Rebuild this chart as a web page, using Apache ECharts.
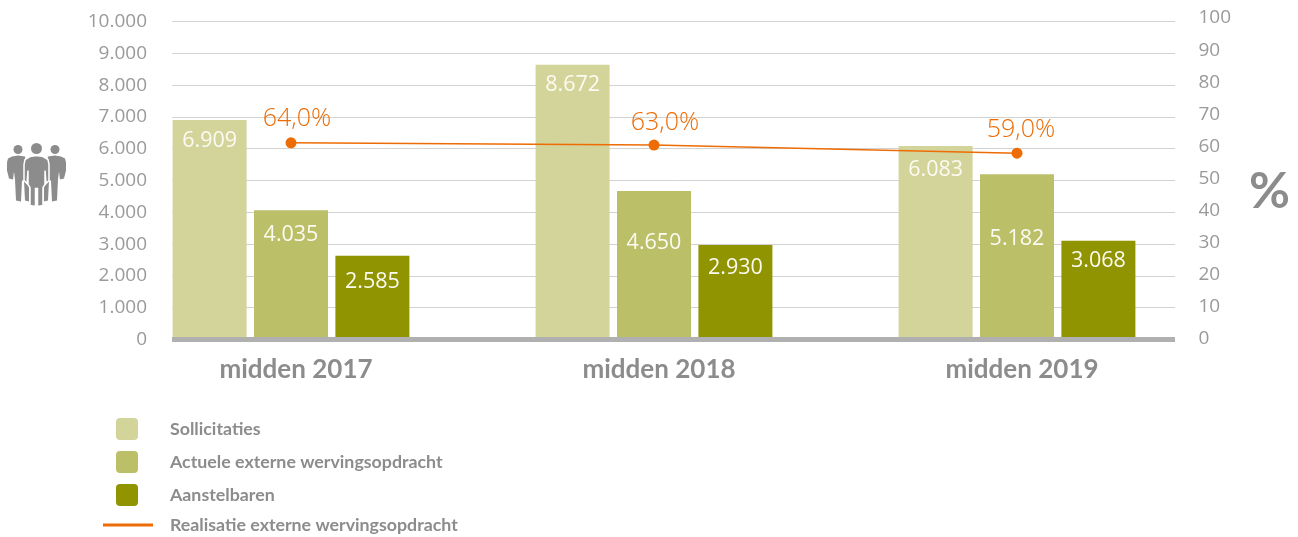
<!DOCTYPE html>
<html lang="nl">
<head>
    <meta charset="UTF-8">
    <title>Externe werving</title>
    <script src="https://cdn.jsdelivr.net/npm/echarts@6/dist/echarts.min.js"></script>
    <style>
        html, body { margin: 0; height: 100%; background: #fff; }
        #container { width: 1298px; height: 537px; }
    </style>
</head>
<body>
<div id="container"></div>
<script>
    const categories = ['midden 2017', 'midden 2018', 'midden 2019'];
    const sollicitaties = [6909, 8672, 6083];
    const actueel = [4035, 4650, 5182];
    const aanstelbaren = [2585, 2930, 3068];
    // where the points sit against the right axis in the picture (not what is printed next to them)
    const realisatie = [61.1, 60.4, 57.9];
    const realisatieLabels = ['64,0%', '63,0%', '59,0%'];

    const FONT = 'Open Sans';
    const BOLD_FONT = 'Lato';
    const GREY = '#8c8c8c';
    const ORANGE = '#ee6c05';

    const myChart = echarts.init(document.getElementById('container'), null, {renderer: 'canvas'});

    function dots(v) {
        return String(v).replace(/(\d)(\d{3})$/, '$1.$2');
    }

    // the value labels are not at a fixed distance from the bar top in the original
    function barSeries(name, values, color, drops) {
        return {
            name: name,
            type: 'bar',
            xAxisIndex: 1,
            yAxisIndex: 1,
            barWidth: 74,
            barGap: '10%',
            itemStyle: {color: color},
            label: {
                show: true,
                position: 'insideTop',
                distance: 9,
                fontFamily: FONT,
                fontSize: 21.5,
                color: '#fbfbf2',
                formatter: p => dots(p.value)
            },
            data: values.map((v, i) => ({value: v, label: {offset: [0, drops[i]]}}))
        };
    }

    function legendText(pad) {
        return {
            fontFamily: BOLD_FONT,
            fontSize: 17.8,
            fontWeight: 'bold',
            color: GREY,
            padding: [2, 0, 0, pad]
        };
    }
    const square = 'path://M4 0H18Q22 0 22 4V18Q22 22 18 22H4Q0 22 0 18V4Q0 0 4 0Z';

    // one side figure of the people icon, x runs from its outer edge
    function sideFigure(x, dir) {
        const pts = [[5, 14], [11, 13], [18, 14], [22, 40], [22, 59], [18, 58], [17, 38], [15, 38], [14, 59], [9, 58], [8, 37], [7, 29], [6, 37], [2, 36], [0, 28], [0, 20], [1, 16]];
        return {
            type: 'polygon',
            shape: {points: pts.map(p => [x + dir * p[0], p[1]])},
            style: {fill: GREY}
        };
    }

    const lineLabelOffsets = [[6, 2], [11, 4], [4, 3]];

    const option = {
        animation: false,
        grid: [
            {left: 172, right: 123, top: 21.5, height: 318},   // gridlines + left axis
            {left: 109.5, right: 99.5, top: 23, height: 314},  // bars
            {left: 109.5, right: 99.5, top: 18, height: 321}   // line + right axis
        ],
        xAxis: [
            {
                gridIndex: 0, type: 'value', min: 0, max: 1,
                axisLine: {show: true, lineStyle: {color: '#b0b0b0', width: 5, cap: 'butt'}},
                axisTick: {show: false}, axisLabel: {show: false}, splitLine: {show: false}
            },
            {
                gridIndex: 1, type: 'category', data: categories,
                axisLine: {show: false}, axisTick: {show: false},
                axisLabel: {
                    margin: 20,
                    padding: [0, 0, 0, 10],
                    fontFamily: BOLD_FONT, fontSize: 26, fontWeight: 'bold', color: GREY
                }
            },
            {gridIndex: 2, type: 'category', data: categories, show: false}
        ],
        yAxis: [
            {
                gridIndex: 0, type: 'value', min: 0, max: 10000, interval: 1000,
                axisLine: {show: false}, axisTick: {show: false},
                axisLabel: {
                    margin: 25, fontFamily: FONT, fontSize: 19, color: '#9a9a9a',
                    formatter: v => dots(v)
                },
                splitLine: {lineStyle: {color: '#d2d2d2', width: 1}}
            },
            {gridIndex: 1, type: 'value', min: 0, max: 10000, show: false, splitLine: {show: false}},
            {
                gridIndex: 2, type: 'value', min: 0, max: 100, interval: 10, position: 'right',
                axisLine: {show: false}, axisTick: {show: false}, splitLine: {show: false},
                axisLabel: {margin: 0, fontFamily: FONT, fontSize: 19, color: '#9a9a9a'}
            }
        ],
        legend: [
            {
                left: 116, top: 418, orient: 'vertical', padding: 0,
                itemWidth: 22, itemHeight: 22, itemGap: 11,
                textStyle: legendText(27),
                data: [
                    {name: 'Sollicitaties', icon: square},
                    {name: 'Actuele externe wervingsopdracht', icon: square},
                    {name: 'Aanstelbaren', icon: square}
                ]
            },
            {
                left: 103, top: 516, padding: 0,
                itemWidth: 50, itemHeight: 20,
                textStyle: legendText(12),
                data: [{name: 'Realisatie externe wervingsopdracht', icon: 'path://M0 0H50V3H0Z'}]
            }
        ],
        graphic: [
            {
                type: 'text', left: 1249, top: 167,
                style: {text: '%', fontFamily: BOLD_FONT, fontSize: 50, fontWeight: 'bold', fill: GREY}
            },
            {
                type: 'group', left: 7, top: 143,
                children: [
                    {type: 'circle', shape: {cx: 11, cy: 7, r: 4.5}, style: {fill: GREY}},
                    {type: 'circle', shape: {cx: 48, cy: 7, r: 4.5}, style: {fill: GREY}},
                    {type: 'circle', shape: {cx: 29.5, cy: 6, r: 5.5}, style: {fill: GREY}},
                    sideFigure(0, 1),
                    sideFigure(59, -1),
                    {
                        type: 'polygon',
                        shape: {points: [[23, 14], [29.5, 13], [36, 14], [41, 17], [42, 22], [42, 38], [39, 41], [38, 28], [38, 42], [36, 45], [36, 63], [30.5, 64], [30.5, 46], [28.5, 46], [28.5, 64], [23, 63], [23, 45], [21, 42], [21, 28], [20, 41], [17, 38], [17, 22], [18, 17]]},
                        style: {fill: GREY, stroke: '#fff', lineWidth: 1.5}
                    }
                ]
            }
        ],
        series: [
            barSeries('Sollicitaties', sollicitaties, '#d3d49a', [1, 0, 4]),
            barSeries('Actuele externe wervingsopdracht', actueel, '#bbbf68', [5, 32, 45]),
            barSeries('Aanstelbaren', aanstelbaren, '#8f9400', [6, 3, 0]),
            {
                name: 'Realisatie externe wervingsopdracht',
                type: 'line',
                xAxisIndex: 2,
                yAxisIndex: 2,
                z: 5,
                symbol: 'circle',
                symbolSize: 11,
                itemStyle: {color: ORANGE},
                lineStyle: {color: ORANGE, width: 1.5},
                label: {
                    show: true,
                    position: 'top',
                    distance: 8,
                    fontFamily: FONT,
                    fontSize: 25,
                    fontWeight: 300,
                    color: ORANGE,
                    formatter: p => realisatieLabels[p.dataIndex]
                },
                data: realisatie.map((v, i) => ({value: v, label: {offset: lineLabelOffsets[i]}}))
            }
        ]
    };
    myChart.setOption(option);
</script>
</body>
</html>
